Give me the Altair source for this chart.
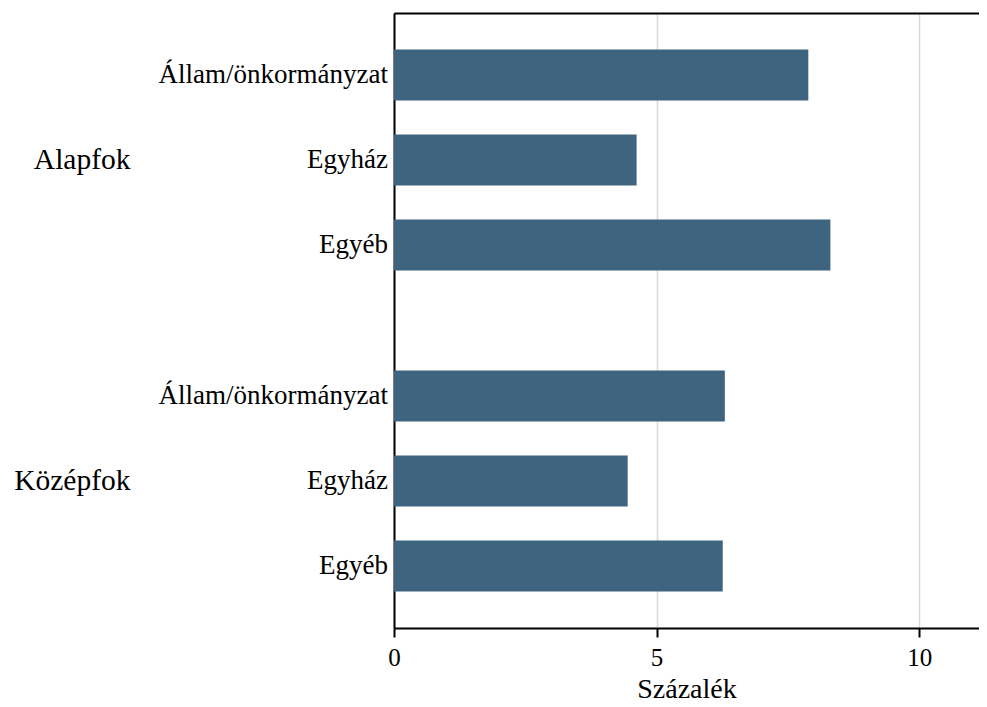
import altair as alt
import pandas as pd

groups = ["Alapfok", "Alapfok", "Alapfok", "Középfok", "Középfok", "Középfok"]
categories = ["Állam/önkormányzat", "Egyház", "Egyéb",
              "Állam/önkormányzat", "Egyház", "Egyéb"]
values = [7.89, 4.62, 8.31, 6.30, 4.45, 6.26]

group_order = ["Alapfok", "Középfok"]
cat_order = ["Állam/önkormányzat", "Egyház", "Egyéb"]
x_ticks = [0, 5, 10]

df = pd.DataFrame({"group": groups, "cat": categories, "value": values})

FONT = "Liberation Serif"
XMAX = 11.14

y_enc = alt.Y("group:N", sort=group_order,
              scale=alt.Scale(paddingInner=0.312, paddingOuter=0.114),
              axis=alt.Axis(title=None, ticks=False, domain=True, domainColor="black",
                            domainWidth=2, labelFont=FONT, labelFontSize=29.5,
                            labelColor="black", labelPadding=264, labelAlign="right",
                            labelBaseline="middle", grid=False))
yoff_enc = alt.YOffset("cat:N", sort=cat_order,
                       scale=alt.Scale(paddingInner=0.4, paddingOuter=0))

bars = alt.Chart(df).mark_bar(color="#3e6480").encode(
    x=alt.X("value:Q", scale=alt.Scale(domain=[0, XMAX], nice=False),
            axis=alt.Axis(title="Százalék", values=x_ticks, orient="bottom",
                          tickSize=9, tickWidth=2, tickColor="black",
                          domainColor="black", domainWidth=2, labelFlush=False,
                          labelFont=FONT, labelFontSize=25, labelColor="black",
                          labelPadding=8, titleFont=FONT, titleFontSize=28,
                          titleFontWeight="normal", titleColor="black", titlePadding=5,
                          grid=True, gridColor="#d9d9d9", gridWidth=1.5)),
    y=y_enc,
    yOffset=yoff_enc,
)

labels = alt.Chart(df).mark_text(align="right", baseline="middle", dx=-6,
                                 font=FONT, fontSize=27, color="black").encode(
    x=alt.datum(0, axis=alt.Axis(orient="top", labels=False, ticks=False, grid=False,
                                 domain=True, domainColor="black", domainWidth=2,
                                 title=None)),
    y=y_enc,
    yOffset=yoff_enc,
    text="cat:N",
)

chart = alt.layer(bars, labels).properties(
    width=585, height=615,
    padding={"left": 5, "top": 5, "right": 0, "bottom": 0},
).configure_view(stroke=None)

chart.save("out.html", embed_options={"renderer": "svg", "actions": False})
